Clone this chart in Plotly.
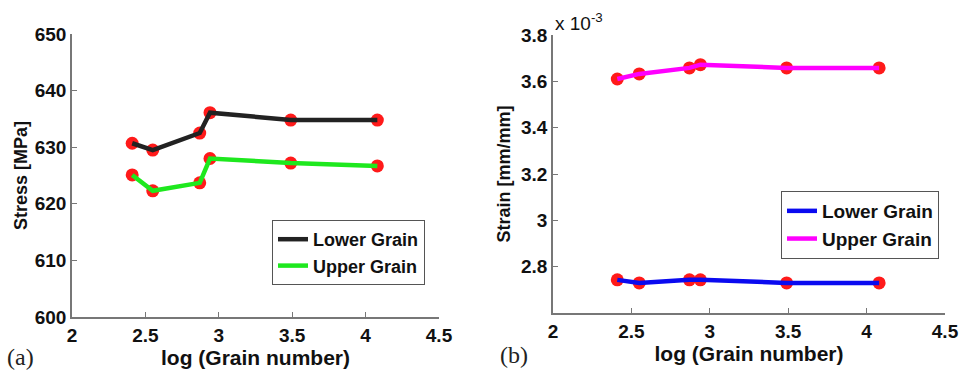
import plotly.graph_objects as go

# ---- data ----
log_grain = [2.41, 2.55, 2.87, 2.94, 3.49, 4.08]
stress_lower = [630.7, 629.5, 632.5, 636.1, 634.8, 634.8]
stress_upper = [625.1, 622.3, 623.7, 628.0, 627.2, 626.7]
strain_lower = [2.743, 2.730, 2.743, 2.743, 2.730, 2.730]   # x 1e-3
strain_upper = [3.610, 3.632, 3.658, 3.672, 3.658, 3.658]   # x 1e-3
series_names = ["Lower Grain", "Upper Grain"]
x_ticks = [2, 2.5, 3, 3.5, 4, 4.5]
x_ticktext = ["2", "2.5", "3", "3.5", "4", "4.5"]
stress_ticks = [600, 610, 620, 630, 640, 650]
strain_ticks = [2.8, 3.0, 3.2, 3.4, 3.6, 3.8]
strain_ticktext = ["2.8", "3", "3.2", "3.4", "3.6", "3.8"]

W, H = 961, 374
FONT = "Liberation Sans, Arial, Helvetica, sans-serif"
SERIF = "Liberation Serif, Times New Roman, serif"

fig = go.Figure()

def add_panel(xa, ya, yl, yu, col_l, col_u, legend):
    for yv in (yl, yu):
        fig.add_trace(go.Scatter(x=log_grain, y=yv, mode="markers",
                                 marker=dict(color="#ff1a1a", size=13, line=dict(width=0)),
                                 showlegend=False, xaxis=xa, yaxis=ya, hoverinfo="skip"))
    fig.add_trace(go.Scatter(x=log_grain, y=yl, mode="lines", name=series_names[0],
                             line=dict(color=col_l, width=4.5), xaxis=xa, yaxis=ya, legend=legend))
    fig.add_trace(go.Scatter(x=log_grain, y=yu, mode="lines", name=series_names[1],
                             line=dict(color=col_u, width=4.5), xaxis=xa, yaxis=ya, legend=legend))

add_panel("x", "y", stress_lower, stress_upper, "#222222", "#1ee81e", "legend")
add_panel("x2", "y2", strain_lower, strain_upper, "#0a0af0", "#ff00ff", "legend2")

tickfont = dict(family=FONT, size=19, color="#111", weight="bold")
xtitlefont = dict(family=FONT, size=21, color="#111", weight="bold")
ytitlefont = dict(family=FONT, size=18, color="#111", weight="bold")
axcommon = dict(showline=True, linecolor="#777", linewidth=1.5, ticks="inside", ticklen=5,
                tickcolor="#777", tickwidth=1, showgrid=False, zeroline=False, tickfont=tickfont,
                mirror=False, automargin=False)

def px_x(p):
    return p / W

def px_y(p):
    return 1 - p / H

fig.update_layout(
    width=W, height=H, margin=dict(l=0, r=0, t=0, b=0, autoexpand=False),
    paper_bgcolor="white", plot_bgcolor="white",
    xaxis=dict(domain=[px_x(72), px_x(439)], range=[2, 4.5], tickvals=x_ticks, ticktext=x_ticktext,
               ticklabelstandoff=0,
               title=dict(text="log (Grain number)", font=xtitlefont, standoff=2), anchor="y", **axcommon),
    yaxis=dict(domain=[px_y(317), px_y(34)], range=[600, 650], tickvals=stress_ticks,
               title=dict(text="Stress [MPa]", font=ytitlefont, standoff=2), anchor="x", **axcommon),
    xaxis2=dict(domain=[px_x(553), px_x(945)], range=[2, 4.5], tickvals=x_ticks, ticktext=x_ticktext,
                ticklabelstandoff=0,
                title=dict(text="log (Grain number)", font=xtitlefont, standoff=2), anchor="y2", **axcommon),
    yaxis2=dict(domain=[px_y(313), px_y(35)], range=[2.6, 3.8], tickvals=strain_ticks,
                ticktext=strain_ticktext,
                title=dict(text="Strain [mm/mm]", font=ytitlefont, standoff=6), anchor="x2", **axcommon),
    legend=dict(x=px_x(425), y=px_y(220), xanchor="right", yanchor="top",
                bordercolor="#555", borderwidth=1, bgcolor="white", itemwidth=30,
                font=dict(family=FONT, size=18, color="#111", weight="bold"), tracegroupgap=0),
    legend2=dict(x=px_x(939), y=px_y(191), xanchor="right", yanchor="top",
                 bordercolor="#555", borderwidth=1, bgcolor="white", itemwidth=30,
                 font=dict(family=FONT, size=19, color="#111", weight="bold"), tracegroupgap=0),
    annotations=[
        dict(text="(a)", x=px_x(5), y=px_y(357), xref="paper", yref="paper", xanchor="left",
             yanchor="middle", showarrow=False, font=dict(family=SERIF, size=24, color="#222")),
        dict(text="(b)", x=px_x(498), y=px_y(355), xref="paper", yref="paper", xanchor="left",
             yanchor="middle", showarrow=False, font=dict(family=SERIF, size=24, color="#222")),
        dict(text="x 10<sup>-3</sup>", x=px_x(553), y=px_y(22), xref="paper", yref="paper",
             xanchor="left", yanchor="middle", showarrow=False,
             font=dict(family=FONT, size=19, color="#111")),
    ],
)

fig.write_html("out.html")
